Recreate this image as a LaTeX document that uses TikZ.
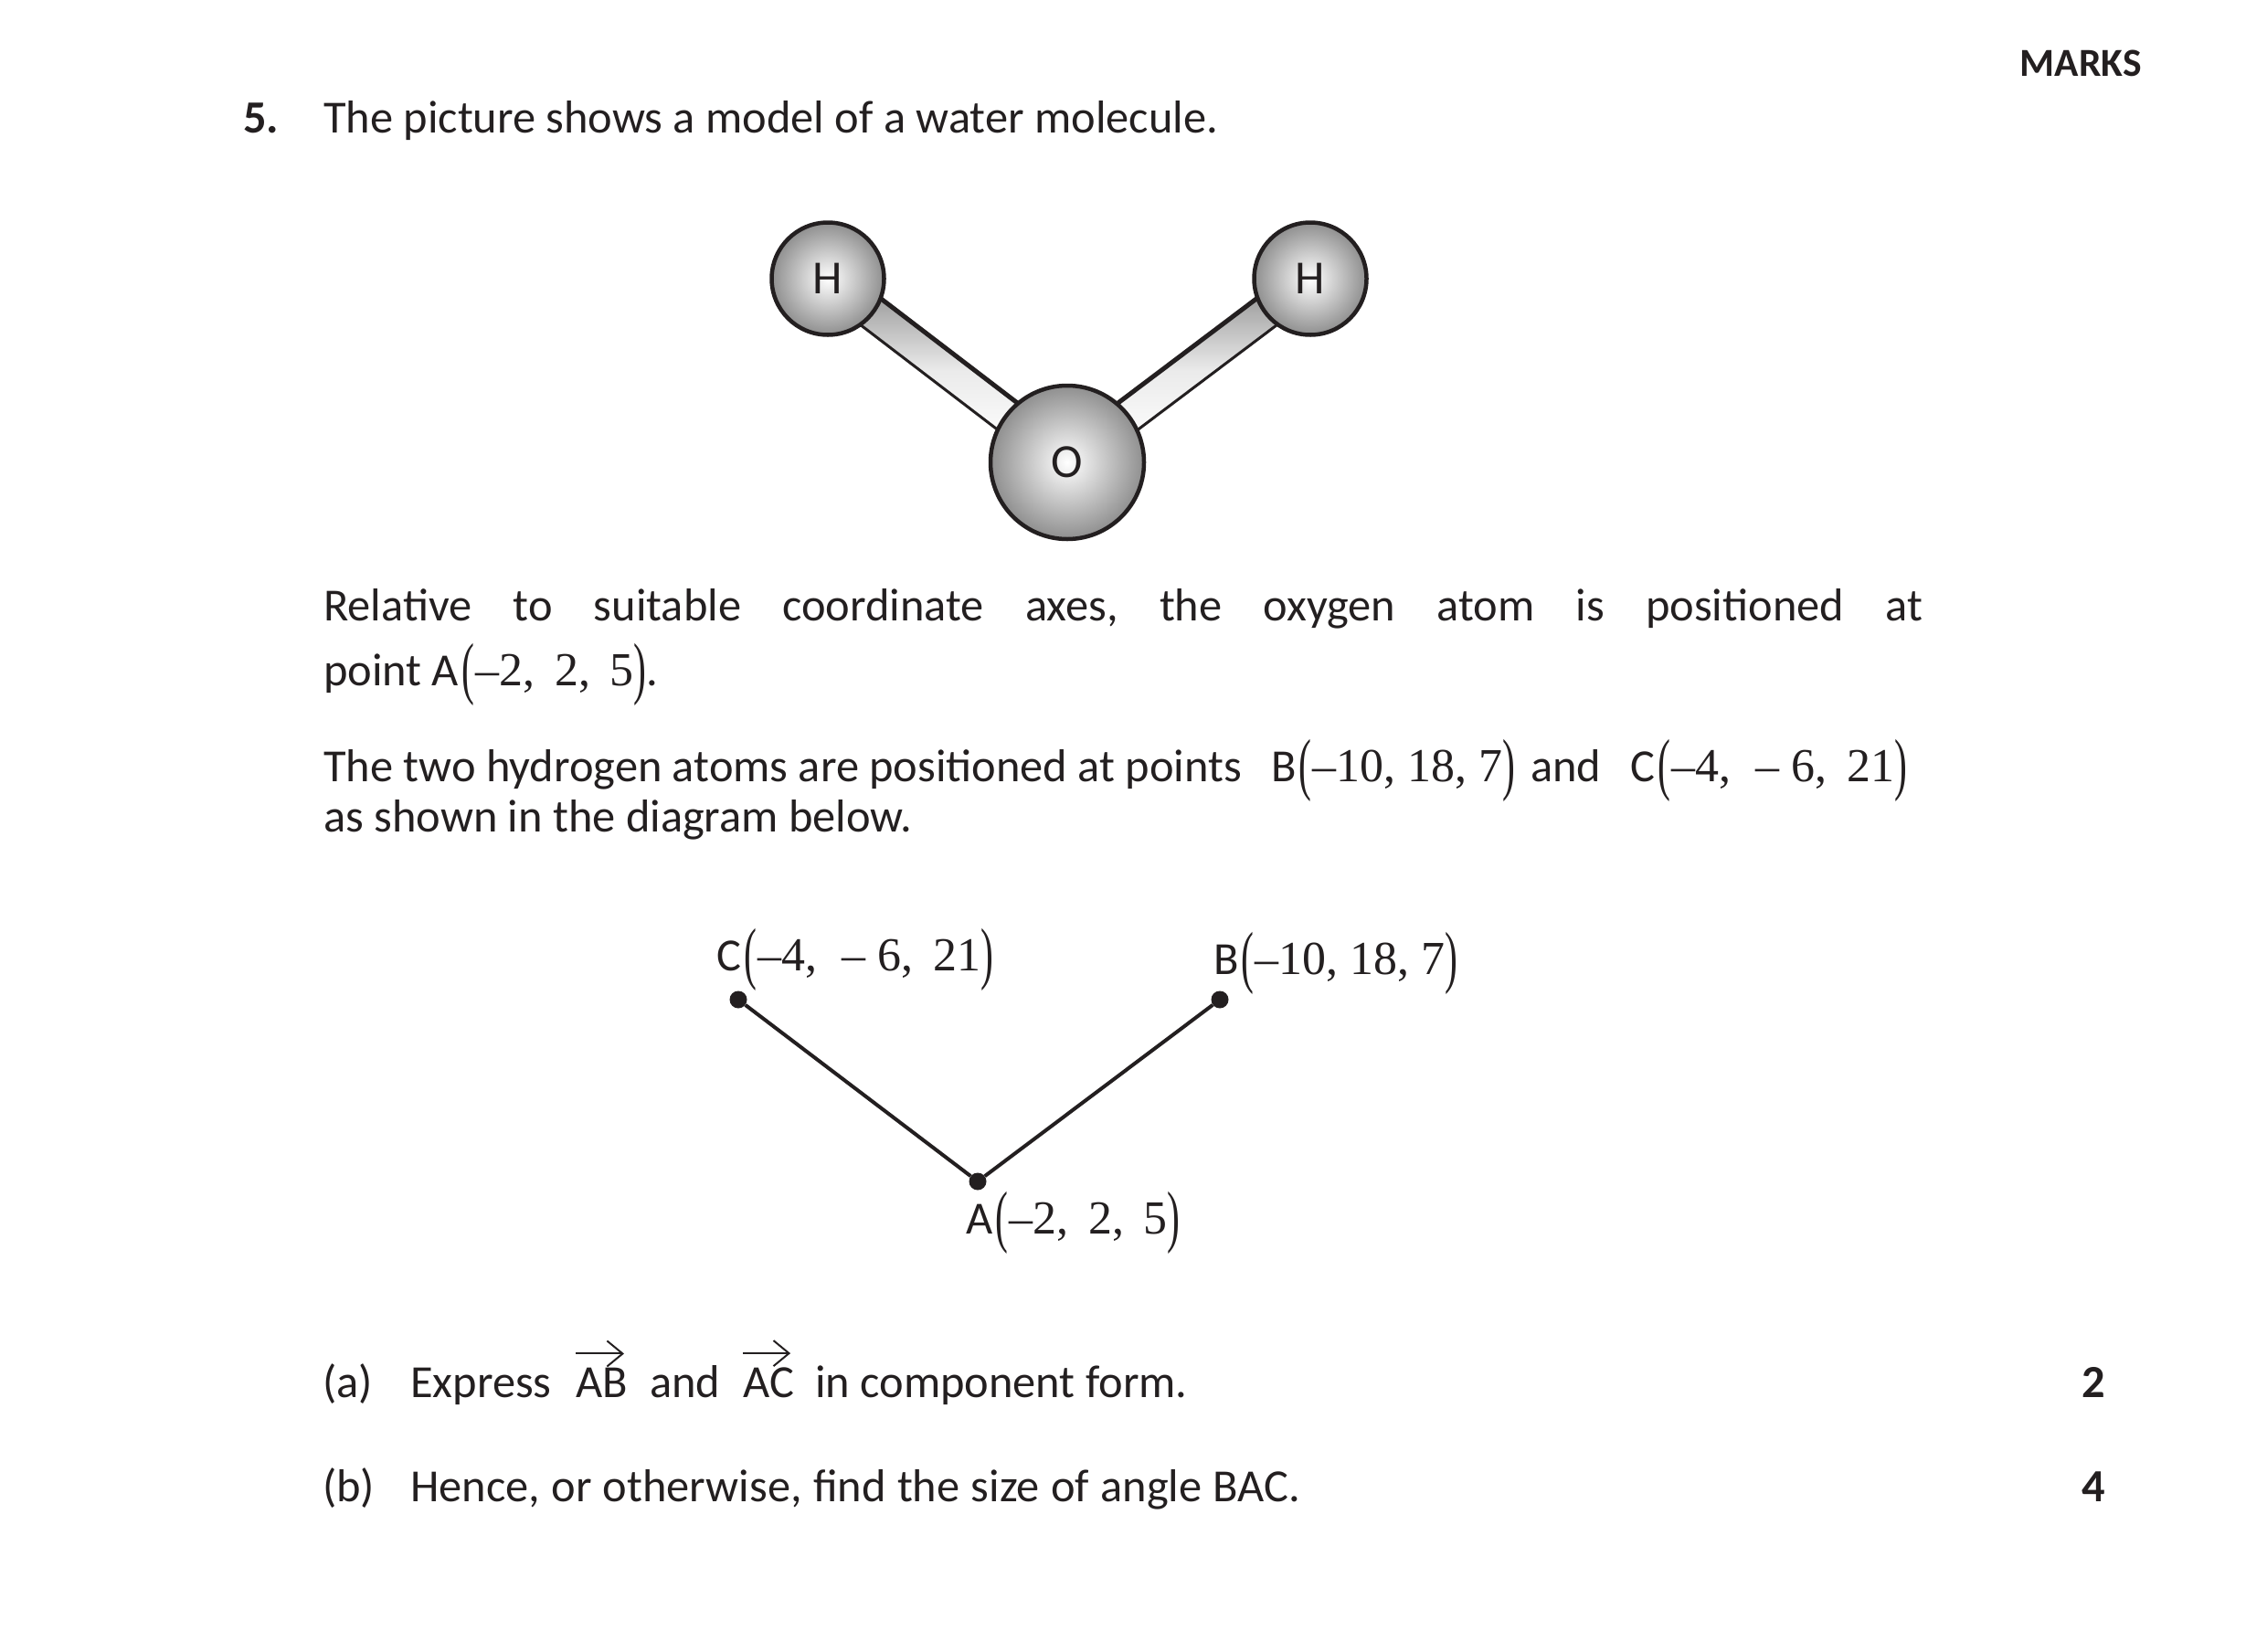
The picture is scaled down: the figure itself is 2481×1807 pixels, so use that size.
\documentclass[tikz,border=0pt]{standalone}
\usepackage{graphicx}
\usepackage{fontspec}
\usepackage{xcolor}
\setmainfont{Carlito}
\newfontfamily\numfont[Scale=1.03]{Liberation Serif}
\usetikzlibrary{calc,arrows.meta}
\definecolor{ink}{HTML}{231F20}
\newcommand{\lpar}{\kern.06em\raisebox{-.13em}{\scalebox{.8}[1.45]{\numfont(}}\kern.03em}
\newcommand{\rpar}{\raisebox{-.13em}{\scalebox{.8}[1.45]{\numfont)}}}
\begin{document}
\begin{tikzpicture}[x=1pt,y=-1pt,
  every node/.append style={inner sep=0pt, text=ink},
  txt/.style={anchor=base west, font=\fontsize{50.4}{60}\selectfont},
  boldtxt/.style={txt, font=\fontsize{50.4}{60}\selectfont\bfseries},
  atom/.style={circle, draw=ink, line width=4.5pt, inner color=white, outer color=black!44, font=\fontsize{52}{60}\selectfont},
  bond/.style={minimum height=36pt, minimum width=240pt, top color=black!40, bottom color=white, middle color=black!8},
  dot/.style={circle, fill=ink, minimum size=19pt},
  vec/.style={draw=ink, line width=2pt, -{Straight Barb[length=17pt,width=28pt]}}]
\useasboundingbox (0,0) rectangle (2481,1807);
% header
\node[boldtxt, anchor=base east, font=\fontsize{43.5}{50}\selectfont\bfseries] (marks) at (2344,83) {MARKS};
\node[boldtxt] (qnum) at (266,145) {5.};
\node[txt] (intro) at (354,145) {The picture shows a model of a water molecule.};
% molecule
\coordinate (hleft) at (906,305);
\coordinate (hright) at (1434,305);
\coordinate (oxy) at (1168,506);
\node[bond, rotate=-37.4] (bondl) at ($(hleft)!.5!(oxy)$) {};
\node[bond, rotate=37] (bondr) at ($(hright)!.5!(oxy)$) {};
\draw[ink, line width=5pt] (bondl.north west) -- (bondl.north east);
\draw[ink, line width=3pt] (bondl.south west) -- (bondl.south east);
\draw[ink, line width=5pt] (bondr.north west) -- (bondr.north east);
\draw[ink, line width=3pt] (bondr.south west) -- (bondr.south east);
\node[atom, minimum size=123pt] (h1) at (hleft) {H};
\node[atom, minimum size=123pt] (h2) at (hright) {H};
\node[atom, minimum size=168pt] (o1) at (oxy) {O};
% text
\node[txt] (rel) at (354,679) {\hbox to 1750pt{Relative\hfill to\hfill suitable\hfill coordinate\hfill axes,\hfill the\hfill oxygen\hfill atom\hfill is\hfill positioned\hfill at}};
\node[txt] (pt) at (354,750) {point A\lpar{\numfont –2,\, 2,\, 5}\rpar.};
\node[txt] (hyd) at (354,855) {The two hydrogen atoms are positioned at points};
\node[txt] (hydb) at (1391,855) {B\lpar{\numfont –10, 18, 7}\rpar};
\node[txt] (hydand) at (1675,855) {and};
\node[txt] (hydc) at (1784,855) {C\lpar{\numfont –4,\; – 6,\, 21}\rpar};
\node[txt] (below) at (354,910) {as shown in the diagram below.};
% vectors
\node[dot] (a) at (1070,1293) {};
\node[dot] (b) at (1335,1094) {};
\node[dot] (c) at (808,1094) {};
\draw[ink, line width=4pt] (c) -- (a) -- (b);
\node[txt] (la) at (1057,1350) {A\lpar{\numfont –2,\, 2,\, 5}\rpar};
\node[txt] (lb) at (1328,1066) {B\lpar{\numfont –10, 18, 7}\rpar};
\node[txt] (lc) at (784,1062) {C\lpar{\numfont –4,\; – 6,\, 21}\rpar};
% parts
\node[txt] (pa) at (353,1529) {(a)};
\node[txt] (pexp) at (449,1529) {Express};
\node[txt] (ab) at (630,1529) {AB};
\node[txt] (pand) at (711,1529) {and};
\node[txt] (ac) at (813,1529) {AC};
\node[txt] (prest) at (892,1529) {in component form.};
\draw[vec] ([yshift=15pt]ab.north west) -- ([xshift=-4pt,yshift=15pt]ab.north east);
\draw[vec] ([yshift=15pt]ac.north west) -- ([xshift=-4pt,yshift=15pt]ac.north east);
\node[boldtxt, anchor=base] (ma) at (2291,1529) {2};
\node[txt] (pb) at (353,1643) {(b)};
\node[txt] (pbt) at (449,1643) {\hbox to 974pt{Hence,\hfill or\hfill otherwise,\hfill find\hfill the\hfill size\hfill of\hfill angle\hfill BAC.}};
\node[boldtxt, anchor=base] (mb) at (2291,1643) {4};
\end{tikzpicture}
\end{document}
